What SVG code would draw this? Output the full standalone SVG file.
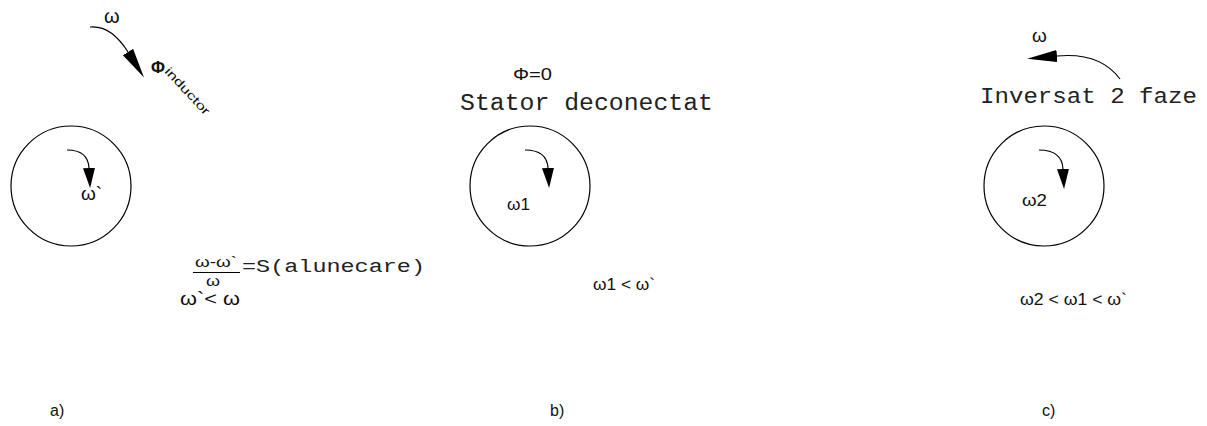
<svg xmlns="http://www.w3.org/2000/svg" width="1207" height="426" viewBox="0 0 1207 426">
<style>
.ln{fill:none;stroke:#000;stroke-width:1.2}
.circ{fill:none;stroke:#000;stroke-width:1.2}
.s{font-family:"Liberation Sans",Arial,sans-serif;fill:#111}
.m{font-family:"Liberation Mono","Courier New",monospace;fill:#222}
</style>
<defs>
<marker id="ahS" markerUnits="userSpaceOnUse" markerWidth="22" markerHeight="14" refX="0" refY="6" orient="auto"><path d="M0,0 L20,6 L0,12 Z" fill="#000"/></marker>
<marker id="ahL" markerUnits="userSpaceOnUse" markerWidth="32" markerHeight="14" refX="0" refY="6" orient="auto"><path d="M0,0 L30,6 L0,12 Z" fill="#000"/></marker>
</defs>
<rect width="1207" height="426" fill="#fff"/>

<g id="panel-a">
<circle class="circ" cx="71" cy="186" r="60"/>
<text class="s" x="104" y="23" font-size="20">ω</text>
<text class="s" x="151" y="73" font-size="17" font-weight="bold">Φ</text>
<text class="s" font-size="12" transform="translate(164,72) rotate(47)" textLength="60" lengthAdjust="spacingAndGlyphs">inductor</text>
<text class="s" x="81" y="200" font-size="19">ω`</text>
</g>

<g id="formula-a">
<text class="s" x="195" y="267" font-size="15" textLength="42" lengthAdjust="spacingAndGlyphs">ω-ω`</text>
<line class="ln" x1="193" y1="272.5" x2="240" y2="272.5"/>
<text class="s" x="206" y="286" font-size="15" textLength="14" lengthAdjust="spacingAndGlyphs">ω</text>
<text class="m" x="242" y="272" font-size="18" textLength="183" lengthAdjust="spacingAndGlyphs">=S(alunecare)</text>
<text class="s" x="180" y="305" font-size="18" textLength="60" lengthAdjust="spacingAndGlyphs">ω`&lt; ω</text>
</g>

<g id="panel-b">
<text class="s" x="513" y="80" font-size="17" textLength="39" lengthAdjust="spacingAndGlyphs">Φ=0</text>
<text class="m" x="460" y="110" font-size="23" textLength="253" lengthAdjust="spacingAndGlyphs">Stator deconectat</text>
<circle class="circ" cx="530" cy="186" r="60"/>
<text class="s" x="507" y="210" font-size="17" textLength="23" lengthAdjust="spacingAndGlyphs">ω1</text>
<text class="s" x="593" y="290" font-size="17" textLength="62" lengthAdjust="spacingAndGlyphs">ω1 &lt; ω`</text>
</g>

<g id="panel-c">
<text class="s" x="1032" y="42" font-size="19">ω</text>
<text class="m" x="980" y="103" font-size="22" textLength="217" lengthAdjust="spacingAndGlyphs">Inversat 2 faze</text>
<circle class="circ" cx="1044" cy="186" r="60"/>
<text class="s" x="1022" y="206" font-size="17" textLength="25" lengthAdjust="spacingAndGlyphs">ω2</text>
<text class="s" x="1020" y="305" font-size="17" textLength="107" lengthAdjust="spacingAndGlyphs">ω2 &lt; ω1 &lt; ω`</text>
</g>

<g id="connectors">
<path class="ln" d="M90,27 Q111,25 128,52" marker-end="url(#ahL)"/>
<path class="ln" d="M67,150 Q88,150 89,168" marker-end="url(#ahS)"/>
<path class="ln" d="M525,150 Q547,150 548,168" marker-end="url(#ahS)"/>
<path class="ln" d="M1039,150 Q1062,150 1063,169" marker-end="url(#ahS)"/>
<path class="ln" d="M1120,79 Q1100,52 1057,56" marker-end="url(#ahL)"/>
</g>

<g id="labels">
<text class="s" x="50" y="416" font-size="16">a)</text>
<text class="s" x="550" y="416" font-size="16">b)</text>
<text class="s" x="1042" y="416" font-size="16">c)</text>
</g>
</svg>
